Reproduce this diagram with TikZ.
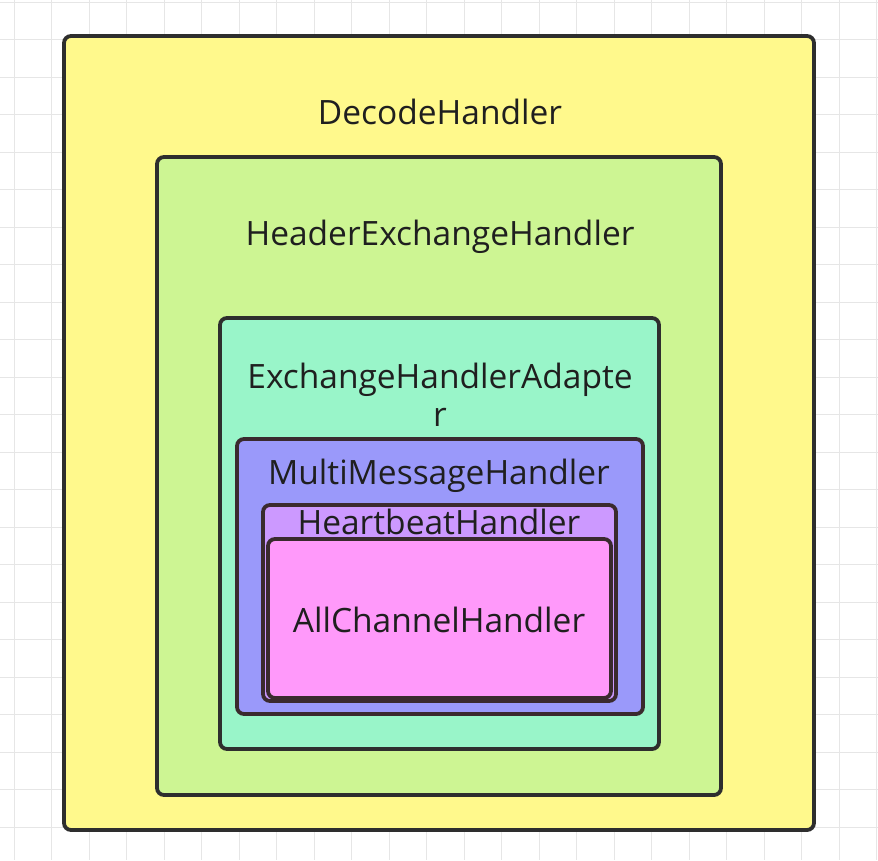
\documentclass[tikz,border=0pt]{standalone}
\usepackage{fontspec}
\setmainfont{Open Sans}
\begin{document}
\begin{tikzpicture}[x=1pt,y=-1pt,
  box/.style={draw=bordercol, line width=3.8pt, rounded corners=7pt, inner sep=0pt},
  lbl/.style={font=\fontsize{33.5}{38}\selectfont, text=textcol, inner sep=0pt, align=center}]
\definecolor{bordercol}{HTML}{2E2E2E}
\definecolor{innerborder}{HTML}{3A2A2E}
\definecolor{textcol}{HTML}{1F1F1F}
\definecolor{gridcol}{HTML}{E6E6E6}
\definecolor{cyellow}{HTML}{FFF98C}
\definecolor{cgreen}{HTML}{CDF593}
\definecolor{cteal}{HTML}{99F5C9}
\definecolor{cblue}{HTML}{9A99FA}
\definecolor{cpurple}{HTML}{CC99FF}
\definecolor{cpink}{HTML}{FF99FA}
\useasboundingbox (0,0) rectangle (878,860);
\fill[white] (0,0) rectangle (878,860);
\foreach \i in {0,...,23} {\draw[gridcol, line width=1pt] ({14+37.5*\i},0) -- ({14+37.5*\i},860);}
\foreach \j in {0,...,22} {\draw[gridcol, line width=1pt] (0,{2+37.5*\j}) -- (878,{2+37.5*\j});}
\node[box, fill=cyellow, minimum width=750pt, minimum height=794pt] (decode) at (439,433) {};
\node[box, fill=cgreen, minimum width=564pt, minimum height=638pt] (header) at (439,476) {};
\node[box, fill=cteal, minimum width=439pt, minimum height=431pt] (adapter) at (439.5,533.5) {};
\node[box, draw=innerborder, fill=cblue, minimum width=406pt, minimum height=275pt] (multi) at (440,576.5) {};
\node[box, draw=innerborder, fill=cpurple, minimum width=353pt, minimum height=196pt] (heart) at (439.5,603) {};
\node[box, draw=innerborder, fill=cpink, minimum width=343pt, minimum height=159pt] (allch) at (439.5,618.5) {};
\node[lbl] (tdecode) at (440,112) {DecodeHandler};
\node[lbl] (theader) at (440,237) {HeaderExchangeHandler};
\node[lbl] (tadapter) at (440,395) {ExchangeHandlerAdapte\\r};
\node[lbl] (tmulti) at (439,476) {MultiMessageHandler};
\node[lbl] (theart) at (439,522) {HeartbeatHandler};
\node[lbl] (tallch) at (439,620) {AllChannelHandler};
\end{tikzpicture}
\end{document}
